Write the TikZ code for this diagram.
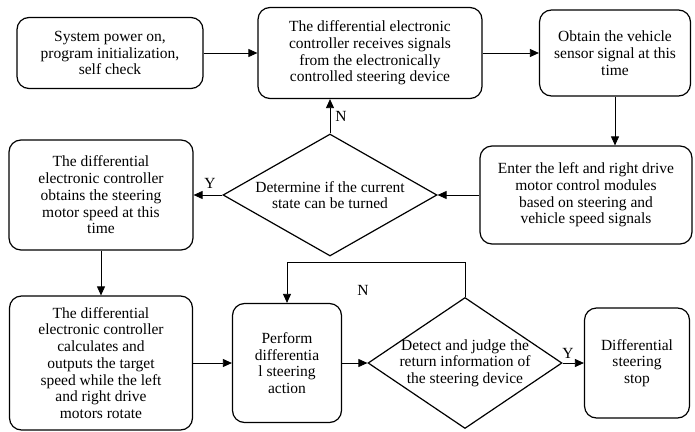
\documentclass[tikz,border=0pt]{standalone}
\usepackage{fontspec}
\setmainfont{Liberation Serif}
\newfontfamily\chartfont{Liberation Serif}
\usepackage{tikz}
\usetikzlibrary{arrows.meta}
\usetikzlibrary{shapes.geometric}

\begin{document}
\begin{tikzpicture}[x=1pt, y=-1pt,
  every node/.style={font=\chartfont\fontsize{15.5}{16.7}\selectfont},
  stepbox/.style={draw, rounded corners=12pt, line width=1.2pt, align=center, inner sep=2pt},
  decide/.style={draw, diamond, line width=1.2pt, align=center},
  flow/.style={line width=0.8pt, -{Triangle[length=9pt, width=8pt]}}]
\useasboundingbox (0,0) rectangle (695,431);
%%% Draws top row
% draws boxes
\node[stepbox, minimum width=186pt, minimum height=71pt] (power) at (110,53)
  {System power on,\\program initialization,\\self check};
\node[stepbox, minimum width=224pt, minimum height=91pt] (receive) at (370,53)
  {The differential electronic\\controller receives signals\\from the electronically\\controlled steering device};
\node[stepbox, minimum width=151pt, minimum height=86pt] (sensor) at (615,53)
  {Obtain the vehicle\\sensor signal at this\\time};
%%% Draws middle row
\node[stepbox, minimum width=212pt, minimum height=98pt] (modules) at (586,195)
  {Enter the left and right drive\\motor control modules\\based on steering and\\vehicle speed signals};
\node[decide, minimum width=214pt, minimum height=122pt, aspect=1.75, inner sep=0pt] (turn) at (330,195)
  {Determine if the current\\state can be turned};
\node[stepbox, minimum width=184pt, minimum height=110pt] (obtain) at (101,195)
  {The differential\\electronic controller\\obtains the steering\\motor speed at this\\time};
%%% Draws bottom row
\node[stepbox, minimum width=183pt, minimum height=134pt] (target) at (101,363)
  {The differential\\electronic controller\\calculates and\\outputs the target\\speed while the left\\and right drive\\motors rotate};
\node[stepbox, minimum width=109pt, minimum height=119pt] (perform) at (287,363)
  {Perform\\differentia\\l steering\\action};
\node[decide, minimum width=194pt, minimum height=131pt, aspect=1.48, inner xsep=-6pt, inner ysep=0pt] (detect) at (465,363)
  {Detect and judge the\\return information of\\the steering device};
\node[stepbox, minimum width=105pt, minimum height=110pt] (stop) at (637,363)
  {Differential\\steering\\stop};
\coordinate (loop) at (287,262);
% draws arrows
\draw[flow] (power) -- (receive);
\draw[flow] (receive) -- (sensor);
\draw[flow] (sensor.south) -- (sensor.south |- modules.north);
\draw[flow] (modules) -- (turn);
\draw[flow] (turn.north) -- (turn.north |- receive.south);
\draw[flow] (turn) -- (obtain);
\draw[flow] (obtain) -- (target);
\draw[flow] (target) -- (perform);
\draw[flow] (perform) -- (detect);
\draw[flow] (detect.north) |- (loop) -- (perform.north);
\draw[flow] (detect) -- (stop);
% labels branches
\node (n1) at (341,116) {N};
\node (y1) at (210,183) {Y};
\node (n2) at (363,290) {N};
\node (y2) at (568,353) {Y};
\end{tikzpicture}
\end{document}
